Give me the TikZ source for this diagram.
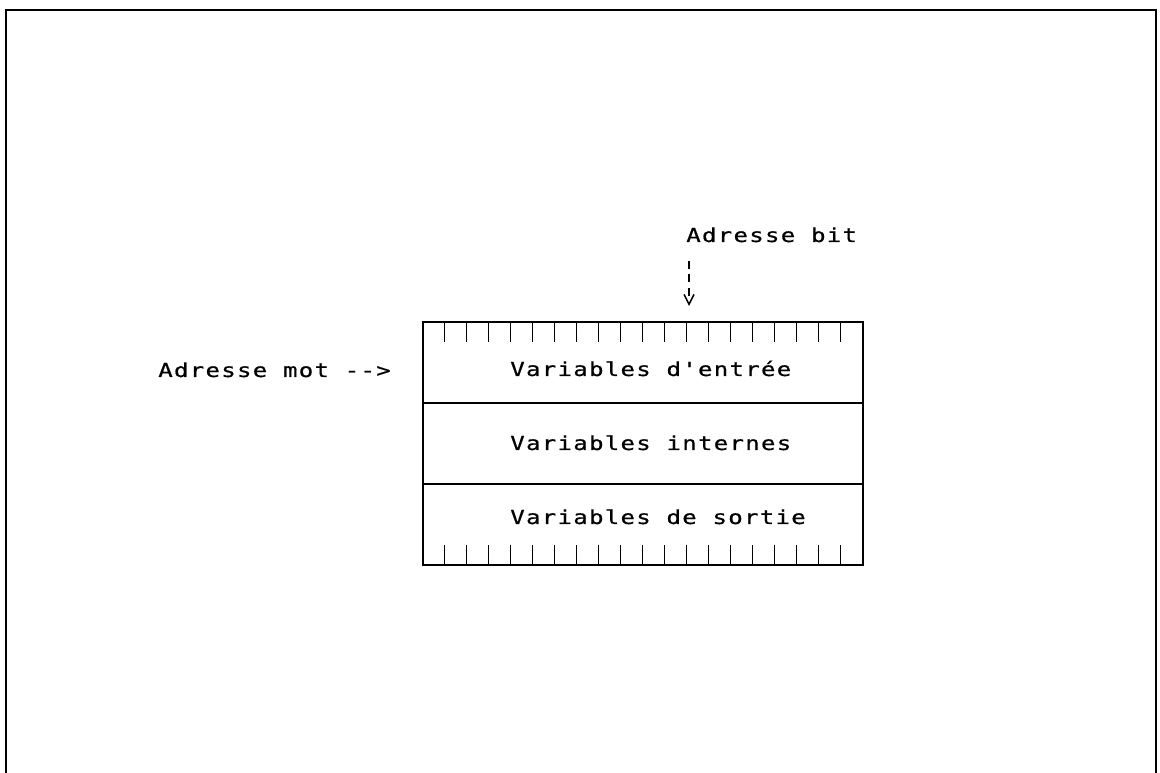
\documentclass[tikz,border=0pt]{standalone}
\usepackage{fontspec}
\newfontfamily\plotfont[FakeStretch=1.25, LetterSpace=6.5, FakeBold=0.6]{DejaVu Sans Mono}
\usetikzlibrary{arrows.meta}
\tikzset{
  row/.style={draw, line width=0.9pt, minimum width=11cm, minimum height=2.025cm, inner sep=0pt},
  lbl/.style={font=\plotfont\fontsize{13.7}{16}\selectfont, inner sep=0pt, anchor=base west},
  tick/.style={line width=0.9pt},
}
\begin{document}
\begin{tikzpicture}[x=0.025cm, y=-0.025cm]
  \useasboundingbox (0,0) rectangle (1160,773);
  % sheet frame
  \draw[line width=1.5pt] (6,773) -- (6,10) -- (1156,10) -- (1156,773);
  % memory zones
  \node[row] (entree) at (643,362.5) {};
  \node[row] (internes) at (643,443.5) {};
  \node[row] (sortie) at (643,524.5) {};
  \node[lbl] (tentree) at (510,376) {Variables d'entrée};
  \node[lbl] (tinternes) at (510,450) {Variables internes};
  \node[lbl] (tsortie) at (510,524) {Variables de sortie};
  % bit ticks
  \foreach \i in {1,...,19} {
    \draw[tick] ([xshift=\i*0.55cm]entree.north west) -- ++(0,21);
    \draw[tick] ([xshift=\i*0.55cm]sortie.south west) -- ++(0,-21);
  }
  % addresses
  \node[lbl] (mot) at (158,377) {Adresse mot -->};
  \node[lbl] (bit) at (686,242) {Adresse bit};
  \coordinate (bitfoot) at (689,306);
  \draw[dashed, dash pattern=on 5.7pt off 4pt, line width=1.1pt, -{Straight Barb[length=7pt, width=7pt]}, shorten <=13pt] (bit.south west -| bitfoot) -- (bitfoot);
\end{tikzpicture}
\end{document}
